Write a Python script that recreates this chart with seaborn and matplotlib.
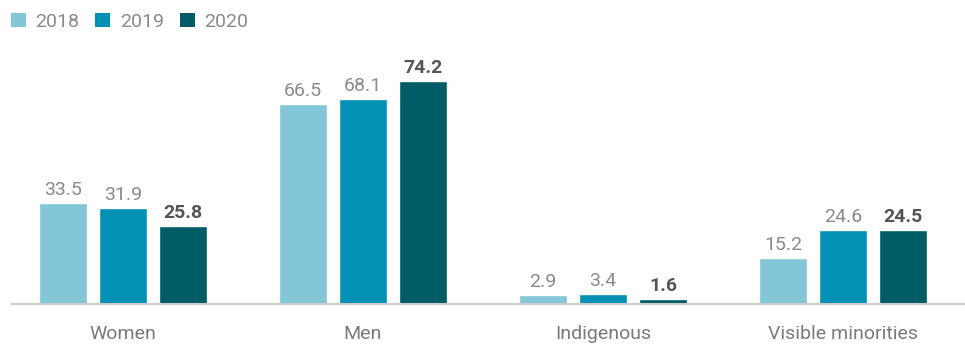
import numpy as np
import pandas as pd
import matplotlib.pyplot as plt
import seaborn as sns
from matplotlib.patches import Patch

# Chart data
categories = ['Women', 'Men', 'Indigenous', 'Visible minorities']
years = ['2018', '2019', '2020']
values_2018 = [33.5, 66.5, 2.9, 15.2]
values_2019 = [31.9, 68.1, 3.4, 24.6]
values_2020 = [25.8, 74.2, 1.6, 24.5]

colors = ['#82c6d7', '#0091b3', '#005c66']

df = pd.DataFrame({
    'group': categories * 3,
    'year': [y for y in years for _ in categories],
    'value': values_2018 + values_2019 + values_2020,
})

sns.set_style('white')
plt.rcParams['font.family'] = ['Roboto', 'DejaVu Sans']

fig = plt.figure(figsize=(9.65, 3.45), dpi=100)
ax = fig.add_axes([12 / 965, 41 / 345, 953 / 965, 264 / 345])

sns.barplot(data=df, x='group', y='value', hue='year', palette=colors,
            width=0.75, gap=0.2, saturation=1, ax=ax, legend=False)

ax.set_xlim(-0.4625, 3.508)
ax.set_ylim(0, 87.85)

# value labels
for i, cont in enumerate(ax.containers):
    if i == 2:
        ax.bar_label(cont, fmt='%.1f', padding=3, fontsize=14,
                     color='#555555', fontweight='bold')
    else:
        ax.bar_label(cont, fmt='%.1f', padding=3, fontsize=14,
                     color='#8a8a8a')

sns.despine(ax=ax, left=True)
ax.spines['bottom'].set_color('#cccccc')
ax.spines['bottom'].set_linewidth(1.5)
ax.set_yticks([])
ax.set_xlabel('')
ax.set_ylabel('')
ax.tick_params(axis='x', length=0, pad=15, labelsize=14, labelcolor='#7a7a7a')

handles = [Patch(facecolor=c, edgecolor='none') for c in colors]
fig.legend(handles, years, loc='upper left', bbox_to_anchor=(-0.002, 1.0),
           ncol=3, frameon=False, fontsize=14, labelcolor='#8a8a8a',
           handlelength=0.78, handleheight=0.78, handletextpad=0.5,
           columnspacing=0.8, borderaxespad=0.25)

fig.savefig('out.png', dpi=100)
